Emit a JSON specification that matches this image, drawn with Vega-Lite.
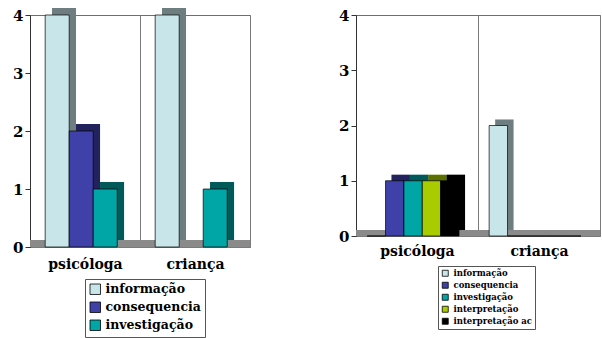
{
  "$schema": "https://vega.github.io/schema/vega-lite/v6.json",
  "background": "white",
  "padding": {"left": 12, "top": 7, "right": 0, "bottom": 0},
  "spacing": 84,
  "config": {
    "font": "DejaVu Serif",
    "view": {"stroke": "#6e6e6e", "strokeWidth": 1},
    "axis": {
      "labelFont": "DejaVu Serif",
      "labelFontWeight": "bold",
      "labelFontSize": 14,
      "labelColor": "black",
      "gridColor": "#7a7a7a",
      "gridOpacity": 1,
      "gridWidth": 1,
      "domainColor": "#333333",
      "tickColor": "#333333",
      "title": null
    },
    "legend": {
      "labelFont": "DejaVu Serif",
      "labelFontWeight": "bold",
      "labelColor": "black",
      "symbolType": "square",
      "symbolStrokeColor": "black",
      "symbolStrokeWidth": 0.8,
      "symbolOpacity": 1,
      "strokeColor": "#555555",
      "title": null,
      "orient": "none",
      "direction": "vertical"
    }
  },
  "datasets": {
    "left": [
      {"grupo": "psicóloga", "cat": "informação", "valor": 4},
      {"grupo": "psicóloga", "cat": "consequencia", "valor": 2},
      {"grupo": "psicóloga", "cat": "investigação", "valor": 1},
      {"grupo": "criança", "cat": "informação", "valor": 4},
      {"grupo": "criança", "cat": "investigação", "valor": 1}
    ],
    "right": [
      {"grupo": "psicóloga", "cat": "informação", "valor": 0},
      {"grupo": "psicóloga", "cat": "consequencia", "valor": 1},
      {"grupo": "psicóloga", "cat": "investigação", "valor": 1},
      {"grupo": "psicóloga", "cat": "interpretação", "valor": 1},
      {"grupo": "psicóloga", "cat": "interpretação ac", "valor": 1},
      {"grupo": "criança", "cat": "informação", "valor": 2},
      {"grupo": "criança", "cat": "consequencia", "valor": 0},
      {"grupo": "criança", "cat": "investigação", "valor": 0},
      {"grupo": "criança", "cat": "interpretação", "valor": 0},
      {"grupo": "criança", "cat": "interpretação ac", "valor": 0}
    ]
  },
  "hconcat": [
    {
      "width": 220,
      "height": 232,
      "data": {"name": "left"},
      "layer": [
        {
          "mark": {"type": "rule", "color": "#8a8a8a", "strokeWidth": 7, "yOffset": -3.5},
          "encoding": {"y": {"datum": 0, "type": "quantitative"}}
        },
        {
          "mark": {"type": "bar", "yOffset": -7},
          "encoding": {
            "x": {"field": "grupo", "type": "nominal", "sort": ["psicóloga", "criança"],
                  "scale": {"paddingInner": 0, "paddingOuter": 0},
                  "axis": {"labelAngle": 0, "ticks": false, "grid": true, "tickBand": "extent", "labelPadding": 10, "domainColor": "#7a7a7a"}},
            "xOffset": {"field": "cat", "type": "nominal", "sort": ["informação", "consequencia", "investigação"],
                        "scale": {"domain": ["informação", "consequencia", "investigação"], "paddingInner": 0, "paddingOuter": 0.79, "align": 0.58}},
            "y": {"field": "valor", "type": "quantitative", "scale": {"domain": [0, 4]},
                  "axis": {"values": [0, 1, 2, 3, 4], "format": "d", "tickSize": 5, "labelPadding": 2, "labelFontSize": 15}},
            "color": {"field": "cat", "type": "nominal",
                      "scale": {"domain": ["informação", "consequencia", "investigação"], "range": ["#c8e6ea", "#3f40a8", "#00a5a5"]},
                      "legend": {"labelFontSize": 12.5, "symbolSize": 110, "padding": 4, "rowPadding": 3, "legendX": 55, "legendY": 264}}
          }
        },
        {
          "mark": {"type": "bar", "yOffset": -7, "color": "black", "opacity": 0.45},
          "encoding": {
            "x": {"field": "grupo", "type": "nominal", "sort": ["psicóloga", "criança"]},
            "xOffset": {"field": "cat", "type": "nominal", "sort": ["informação", "consequencia", "investigação"],
                        "scale": {"domain": ["informação", "consequencia", "investigação"], "paddingInner": 0, "paddingOuter": 0.79, "align": 0.58}},
            "y": {"field": "valor", "type": "quantitative"}
          }
        },
        {
          "mark": {"type": "bar", "stroke": "black", "strokeWidth": 0.7},
          "encoding": {
            "x": {"field": "grupo", "type": "nominal", "sort": ["psicóloga", "criança"]},
            "xOffset": {"field": "cat", "type": "nominal", "sort": ["informação", "consequencia", "investigação"],
                        "scale": {"domain": ["informação", "consequencia", "investigação"], "paddingInner": 0, "paddingOuter": 0.79, "align": 0.4}},
            "y": {"field": "valor", "type": "quantitative"},
            "color": {"field": "cat", "type": "nominal"}
          }
        }
      ],
      "resolve": {"scale": {"xOffset": "independent"}}
    },
    {
      "width": 244,
      "height": 221,
      "data": {"name": "right"},
      "layer": [
        {
          "mark": {"type": "rule", "color": "#8a8a8a", "strokeWidth": 6, "yOffset": -3},
          "encoding": {"y": {"datum": 0, "type": "quantitative"}}
        },
        {
          "mark": {"type": "bar", "yOffset": -6},
          "encoding": {
            "x": {"field": "grupo", "type": "nominal", "sort": ["psicóloga", "criança"],
                  "scale": {"paddingInner": 0, "paddingOuter": 0},
                  "axis": {"labelAngle": 0, "ticks": false, "grid": true, "tickBand": "extent", "labelPadding": 8, "domainColor": "#7a7a7a"}},
            "xOffset": {"field": "cat", "type": "nominal", "sort": ["informação", "consequencia", "investigação", "interpretação", "interpretação ac"],
                        "scale": {"domain": ["informação", "consequencia", "investigação", "interpretação", "interpretação ac"], "paddingInner": 0, "paddingOuter": 0.82, "align": 0.57}},
            "y": {"field": "valor", "type": "quantitative", "scale": {"domain": [0, 4]},
                  "axis": {"values": [0, 1, 2, 3, 4], "format": "d", "tickSize": 5, "labelPadding": 2, "labelFontSize": 15}},
            "color": {"field": "cat", "type": "nominal",
                      "scale": {"domain": ["informação", "consequencia", "investigação", "interpretação", "interpretação ac"], "range": ["#c8e6ea", "#3f40a8", "#00a5a5", "#a8cc00", "#000000"]},
                      "legend": {"labelFontSize": 8.5, "symbolSize": 36, "padding": 3, "rowPadding": 2, "legendX": 82, "legendY": 251}}
          }
        },
        {
          "mark": {"type": "bar", "yOffset": -6, "color": "black", "opacity": 0.45},
          "encoding": {
            "x": {"field": "grupo", "type": "nominal", "sort": ["psicóloga", "criança"]},
            "xOffset": {"field": "cat", "type": "nominal", "sort": ["informação", "consequencia", "investigação", "interpretação", "interpretação ac"],
                        "scale": {"domain": ["informação", "consequencia", "investigação", "interpretação", "interpretação ac"], "paddingInner": 0, "paddingOuter": 0.82, "align": 0.57}},
            "y": {"field": "valor", "type": "quantitative"}
          }
        },
        {
          "mark": {"type": "bar", "stroke": "black", "strokeWidth": 0.7},
          "encoding": {
            "x": {"field": "grupo", "type": "nominal", "sort": ["psicóloga", "criança"]},
            "xOffset": {"field": "cat", "type": "nominal", "sort": ["informação", "consequencia", "investigação", "interpretação", "interpretação ac"],
                        "scale": {"domain": ["informação", "consequencia", "investigação", "interpretação", "interpretação ac"], "paddingInner": 0, "paddingOuter": 0.82, "align": 0.37}},
            "y": {"field": "valor", "type": "quantitative"},
            "color": {"field": "cat", "type": "nominal"}
          }
        }
      ],
      "resolve": {"scale": {"xOffset": "independent"}}
    }
  ],
  "resolve": {"scale": {"color": "independent"}}
}
